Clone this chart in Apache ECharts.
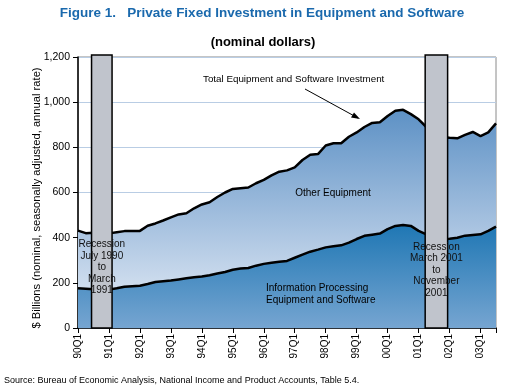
<!DOCTYPE html>
<html>
<head>
<meta charset="utf-8">
<script src="https://cdn.jsdelivr.net/npm/echarts@6/dist/echarts.min.js"></script>
<style>
html,body{margin:0;padding:0;background:#fff;}
#chart{width:508px;height:389px;}
</style>
</head>
<body>
<div id="chart"></div>
<script>
// Tick labels (every 4th quarter, starting 90Q1 at index 0)
const tickLabels = ['90Q1','91Q1','92Q1','93Q1','94Q1','95Q1','96Q1','97Q1','98Q1','99Q1','00Q1','01Q1','02Q1','03Q1'];

// Total Equipment and Software Investment, quarterly 90Q1..03Q3 ($ billions)
const totalInvestment = [
  431, 420, 422, 420, 419, 424, 429, 429,
  430, 453, 463, 476, 490, 503, 508, 530,
  547, 557, 580, 600, 616, 619, 622, 641,
  656, 676, 692, 698, 711, 744, 767, 770,
  808, 818, 818, 847, 866, 890, 908, 911,
  939, 962, 966, 947, 924, 890, 860, 845,
  842, 840, 855, 868, 850, 866, 906
];

// Information Processing Equipment and Software, quarterly 90Q1..03Q3 ($ billions)
const infoProcessing = [
  176, 174, 172, 170, 170, 176, 183, 185,
  187, 195, 204, 207, 210, 215, 220, 225,
  228, 234, 241, 248, 258, 263, 266, 276,
  284, 289, 293, 297, 311, 325, 338, 347,
  357, 362, 366, 378, 394, 408, 413, 418,
  438, 452, 456, 452, 430, 415, 400, 392,
  395, 400, 409, 412, 415, 430, 449
];

// Recession periods (quarter index positions)
const recessions = [[1.75, 4.4], [44.85, 47.75]];
const recessionLabels = [
  ['Recession', 'July 1990', 'to', 'March', '1991'],
  ['Recession', 'March 2001', 'to', 'November', '2001']
];
const recessionLabelTop = [396, 385];

const chart = echarts.init(document.getElementById('chart'), null, {renderer: 'canvas'});

const toPts = arr => arr.map((v, i) => [i, v]);
const FONT = 'Liberation Sans';

const option = {
  animation: false,
  backgroundColor: '#fff',
  grid: {left: 78, right: 12, top: 57, bottom: 61, show: true, borderColor: '#8a8a8a', borderWidth: 1, backgroundColor: 'transparent'},
  xAxis: {
    type: 'value', min: 0, max: totalInvestment.length - 1, interval: 4,
    axisLine: {show: true, lineStyle: {color: '#000', width: 1.5}},
    axisTick: {show: true, length: 5, lineStyle: {color: '#000'}},
    splitLine: {show: false},
    axisLabel: {
      rotate: 90, margin: 6, fontFamily: FONT, fontSize: 10, color: '#000',
      formatter: v => tickLabels[v / 4] || ''
    }
  },
  yAxis: {
    type: 'value', min: 0, max: 1200, interval: 200,
    axisLine: {show: true, lineStyle: {color: '#000', width: 1.5}},
    axisTick: {show: true, length: 5, lineStyle: {color: '#000'}},
    splitLine: {show: true, lineStyle: {color: '#b9cde4', width: 1}},
    axisLabel: {
      margin: 8, fontFamily: FONT, fontSize: 10.5, color: '#000',
      formatter: v => v.toLocaleString('en-US')
    }
  },
  series: [
    {
      type: 'line', data: toPts(totalInvestment), showSymbol: false, z: 2,
      lineStyle: {color: '#000', width: 2.5},
      areaStyle: {
        opacity: 1,
        color: new echarts.graphic.LinearGradient(0, 0, 0, 1, [
          {offset: 0, color: '#5d91c5'},
          {offset: 0.55, color: '#aac4e1'},
          {offset: 1, color: '#e9eff7'}
        ])
      }
    },
    {
      type: 'line', data: toPts(infoProcessing), showSymbol: false, z: 3,
      lineStyle: {color: '#000', width: 2.5},
      areaStyle: {
        opacity: 1,
        color: new echarts.graphic.LinearGradient(0, 0, 0, 1, [
          {offset: 0, color: '#1f77b4'},
          {offset: 1, color: '#76a5d1'}
        ])
      }
    },
    {
      type: 'custom', z: 10, clip: false,
      data: recessions.map((r, i) => [r[0], r[1], i]),
      encode: {x: [0, 1]},
      renderItem: (params, api) => {
        const i = api.value(2);
        const s = api.coord([api.value(0), 1200]);
        const e = api.coord([api.value(1), 0]);
        const ty = api.coord([0, recessionLabelTop[i]])[1];
        return {
          type: 'group',
          children: [
            {type: 'rect', shape: {x: s[0], y: s[1] - 2, width: e[0] - s[0], height: e[1] - s[1] + 2},
             style: {fill: '#c0c4cc', stroke: '#000', lineWidth: 1.5}},
            {type: 'text', x: (s[0] + e[0]) / 2, y: ty,
             style: {text: recessionLabels[i].join('\n'), fill: '#111', font: '10px ' + FONT,
                     align: 'center', verticalAlign: 'top', lineHeight: 11.5}}
          ]
        };
      }
    }
  ],
  graphic: [
    {type: 'text', x: 262, y: 13, style: {text: 'Figure 1.   Private Fixed Investment in Equipment and Software', fill: '#1a69ad', font: 'bold 13.5px ' + FONT, align: 'center', verticalAlign: 'middle'}},
    {type: 'text', x: 263, y: 42, style: {text: '(nominal dollars)', fill: '#000', font: 'bold 13px ' + FONT, align: 'center', verticalAlign: 'middle'}},
    {type: 'text', x: 37, y: 198, rotation: Math.PI / 2, style: {text: '$ Billions (nominal, seasonally adjusted, annual rate)', fill: '#000', font: '11.2px ' + FONT, align: 'center', verticalAlign: 'middle'}},
    {type: 'text', x: 203, y: 79, z: 20, style: {text: 'Total Equipment and Software Investment', fill: '#000', font: '9.8px ' + FONT, align: 'left', verticalAlign: 'middle'}},
    {type: 'line', z: 20, shape: {x1: 305, y1: 89, x2: 358, y2: 118}, style: {stroke: '#000', lineWidth: 1}},
    {type: 'polygon', z: 20, shape: {points: [[360, 119], [351, 117.5], [354, 112.5]]}, style: {fill: '#000'}},
    {type: 'text', x: 333, y: 193, z: 20, style: {text: 'Other Equipment', fill: '#000', font: '10px ' + FONT, align: 'center', verticalAlign: 'middle'}},
    {type: 'text', x: 266, y: 288, z: 20, style: {text: 'Information Processing', fill: '#000', font: '10px ' + FONT, align: 'left', verticalAlign: 'middle'}},
    {type: 'text', x: 266, y: 300, z: 20, style: {text: 'Equipment and Software', fill: '#000', font: '10px ' + FONT, align: 'left', verticalAlign: 'middle'}},
    {type: 'text', x: 4, y: 381, style: {text: 'Source: Bureau of Economic Analysis, National Income and Product Accounts, Table 5.4.', fill: '#000', font: '9px ' + FONT, align: 'left', verticalAlign: 'middle'}}
  ]
};

chart.setOption(option);
</script>
</body>
</html>
